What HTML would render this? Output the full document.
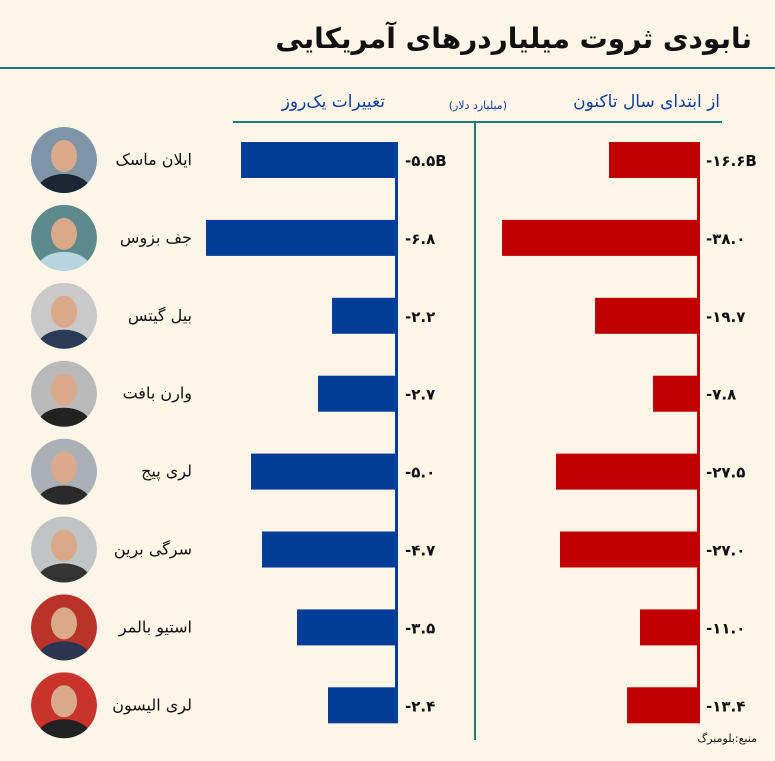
<!DOCTYPE html>
<html><head><meta charset="utf-8"><style>
body{margin:0;background:#fdf6e8;}
svg text{font-family:"DejaVu Sans",sans-serif;}
</style></head><body>
<svg width="775" height="756" xmlns="http://www.w3.org/2000/svg">
<rect width="775" height="756" fill="#fdf6e8"/>
<text x="752" y="48" text-anchor="end" font-size="28" font-weight="bold" fill="#111">نابودی ثروت میلیاردرهای آمریکایی</text>
<line x1="0" y1="68" x2="775" y2="68" stroke="#1b7c78" stroke-width="2"/>
<text x="720" y="107" text-anchor="end" font-size="17" fill="#123d97">از ابتدای سال تاکنون</text>
<text x="385" y="107" text-anchor="end" font-size="17" fill="#123d97">تغییرات یک‌روز</text>
<text x="507" y="109" text-anchor="end" font-size="11" fill="#123d97">(میلیارد دلار)</text>
<line x1="233" y1="122" x2="722" y2="122" stroke="#1b7c78" stroke-width="2"/>
<line x1="475" y1="122" x2="475" y2="740" stroke="#1b7c78" stroke-width="2"/>
<line x1="396.5" y1="142" x2="396.5" y2="723" stroke="#003d99" stroke-width="3"/>
<line x1="698.5" y1="142" x2="698.5" y2="723" stroke="#c00000" stroke-width="3"/>
<defs>
<clipPath id="c"><circle r="33"/></clipPath>
</defs>
<g id="rows"></g>
<text x="757" y="742" text-anchor="end" font-size="11" fill="#111">منبع:بلومبرگ</text>
</svg>
<script>
var rows=[["ایلان ماسک",241,609,"-۵.۵B","-۱۶.۶B","#1b2633"],["جف بزوس",206,502,"-۶.۸","-۳۸.۰","#b8d4e0"],["بیل گیتس",332,595,"-۲.۲","-۱۹.۷","#2b3a55"],["وارن بافت",318,653,"-۲.۷","-۷.۸","#222"],["لری پیج",251,556,"-۵.۰","-۲۷.۵","#2a2a2a"],["سرگی برین",262,560,"-۴.۷","-۲۷.۰","#333"],["استیو بالمر",297,640,"-۳.۵","-۱۱.۰","#2b3550"],["لری الیسون",328,627,"-۲.۴","-۱۳.۴","#222"]];
var bgs=["#7d95a6","#5d8a8c","#c9c9c9","#b9b9b9","#aab0b5","#c0c4c4","#b8342a","#c8342a"];
var s="";
rows.forEach(function(r,i){
 var cy=160+i*77.9, y=cy-18;
 s+='<rect x="'+r[1]+'" y="'+y+'" width="'+(398-r[1])+'" height="36" fill="#003d99"/>';
 s+='<rect x="'+r[2]+'" y="'+y+'" width="'+(700-r[2])+'" height="36" fill="#c00000"/>';
 s+='<text x="405" y="'+(cy+6)+'" font-size="15" font-weight="bold" fill="#111">'+r[3]+'</text>';
 s+='<text x="706" y="'+(cy+6)+'" font-size="15" font-weight="bold" fill="#111">'+r[4]+'</text>';
 s+='<text x="192" y="'+(cy+5)+'" text-anchor="end" font-size="16" fill="#111">'+r[0]+'</text>';
 s+='<g transform="translate(64,'+cy+')" clip-path="url(#c)"><circle r="33" fill="'+bgs[i]+'"/><ellipse cx="0" cy="-4" rx="13" ry="16" fill="#d9a98a"/><ellipse cx="0" cy="30" rx="26" ry="16" fill="'+r[5]+'"/></g>';
});
document.getElementById("rows").innerHTML=s;
</script>
</body></html>
